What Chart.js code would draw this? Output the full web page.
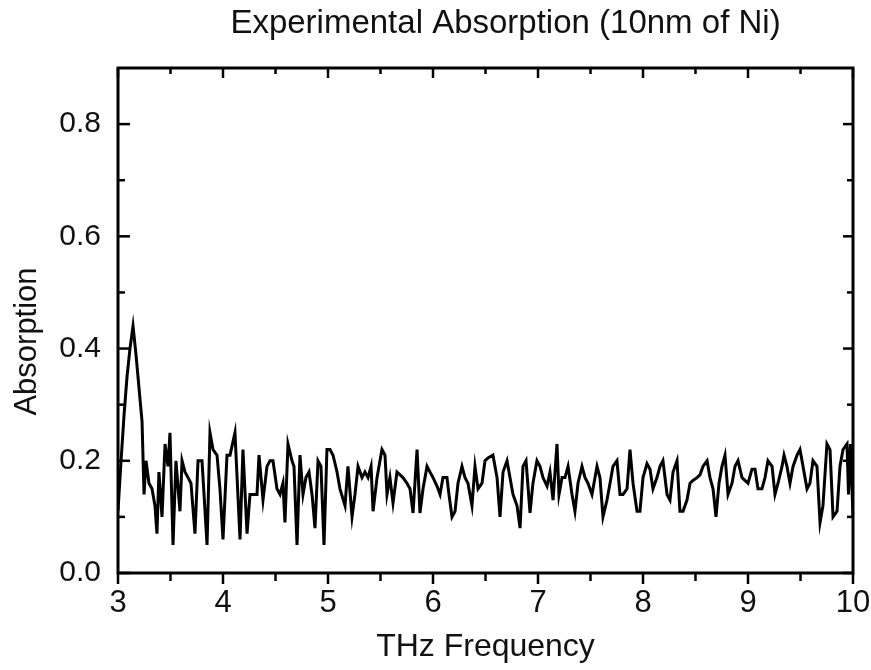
<!DOCTYPE html>
<html><head><meta charset="utf-8">
<script src="https://cdn.jsdelivr.net/npm/chart.js@4"></script>
<style>html,body{margin:0;padding:0;background:#fff}#wrap{width:871px;height:670px}</style>
</head><body><div id="wrap"><canvas id="c" width="871" height="670"></canvas></div>
<script>
const chartTitle = 'Experimental Absorption (10nm of Ni)';
const xAxisTitle = 'THz Frequency';
const yAxisTitle = 'Absorption';

const frequencyTHz = [
3.000,3.029,3.057,3.086,3.114,3.143,3.171,3.200,3.229,3.248,
3.267,3.295,3.324,3.352,3.371,3.390,3.419,3.448,3.476,3.495,
3.524,3.552,3.590,3.610,3.638,3.667,3.695,3.733,3.762,3.800,
3.848,3.876,3.905,3.943,3.971,4.000,4.038,4.067,4.114,4.162,
4.190,4.229,4.257,4.286,4.324,4.343,4.381,4.419,4.448,4.476,
4.514,4.543,4.571,4.590,4.619,4.657,4.676,4.705,4.733,4.762,
4.790,4.819,4.848,4.876,4.905,4.933,4.962,4.990,5.019,5.048,
5.086,5.114,5.162,5.190,5.229,5.257,5.286,5.324,5.352,5.381,
5.410,5.429,5.467,5.495,5.514,5.543,5.562,5.590,5.619,5.657,
5.686,5.714,5.752,5.781,5.810,5.848,5.876,5.905,5.943,5.971,
6.000,6.038,6.067,6.095,6.133,6.152,6.181,6.210,6.238,6.276,
6.305,6.333,6.371,6.400,6.429,6.467,6.495,6.524,6.571,6.610,
6.638,6.667,6.705,6.733,6.762,6.800,6.829,6.857,6.886,6.924,
6.952,6.990,7.019,7.048,7.086,7.114,7.143,7.181,7.200,7.229,
7.257,7.286,7.324,7.352,7.381,7.419,7.448,7.476,7.514,7.562,
7.590,7.619,7.657,7.686,7.714,7.752,7.781,7.810,7.848,7.876,
7.905,7.943,7.971,8.000,8.038,8.067,8.095,8.133,8.162,8.190,
8.229,8.257,8.286,8.324,8.352,8.381,8.419,8.448,8.476,8.514,
8.543,8.571,8.610,8.638,8.667,8.695,8.724,8.752,8.781,8.810,
8.848,8.876,8.905,8.943,8.971,9.000,9.038,9.067,9.095,9.133,
9.162,9.190,9.229,9.257,9.286,9.324,9.343,9.371,9.400,9.429,
9.467,9.495,9.524,9.562,9.590,9.619,9.657,9.686,9.714,9.752,
9.781,9.810,9.848,9.876,9.905,9.943,9.957,9.976,10.000
];

const absorption = [
0.11,0.20,0.28,0.35,0.40,0.44,0.39,0.33,0.27,0.14,
0.20,0.16,0.15,0.12,0.07,0.18,0.10,0.23,0.19,0.25,
0.05,0.20,0.11,0.20,0.18,0.17,0.16,0.07,0.20,0.20,
0.05,0.25,0.22,0.21,0.15,0.06,0.21,0.21,0.25,0.06,
0.22,0.07,0.14,0.14,0.14,0.21,0.13,0.19,0.20,0.20,
0.15,0.14,0.16,0.09,0.23,0.20,0.19,0.05,0.21,0.14,
0.17,0.18,0.14,0.08,0.20,0.19,0.05,0.22,0.22,0.21,
0.18,0.15,0.12,0.19,0.10,0.14,0.19,0.17,0.18,0.17,
0.19,0.11,0.17,0.20,0.22,0.21,0.14,0.17,0.125,0.18,
0.175,0.17,0.16,0.15,0.107,0.22,0.107,0.15,0.19,0.18,
0.17,0.155,0.14,0.17,0.17,0.14,0.10,0.11,0.16,0.19,
0.17,0.16,0.12,0.19,0.15,0.16,0.20,0.205,0.21,0.17,
0.10,0.18,0.20,0.17,0.14,0.12,0.08,0.19,0.20,0.107,
0.16,0.20,0.19,0.17,0.155,0.18,0.13,0.23,0.14,0.17,
0.17,0.19,0.14,0.11,0.16,0.19,0.17,0.16,0.14,0.19,
0.17,0.10,0.13,0.16,0.19,0.20,0.14,0.14,0.15,0.22,
0.16,0.11,0.11,0.17,0.195,0.185,0.15,0.17,0.19,0.20,
0.14,0.13,0.18,0.20,0.11,0.11,0.13,0.16,0.165,0.17,
0.175,0.19,0.20,0.17,0.15,0.10,0.16,0.19,0.21,0.14,
0.16,0.19,0.20,0.17,0.165,0.16,0.185,0.185,0.15,0.15,
0.17,0.20,0.19,0.14,0.16,0.19,0.21,0.19,0.16,0.19,
0.21,0.22,0.19,0.15,0.16,0.20,0.19,0.09,0.12,0.23,
0.22,0.10,0.11,0.19,0.22,0.23,0.14,0.23,0.10
];

const xTickValues = [3, 4, 5, 6, 7, 8, 9, 10];
const yTickValues = [0, 0.2, 0.4, 0.6, 0.8];
const xRange = [3, 10];
const yRange = [0, 0.9];

const FONT = "'Liberation Sans', Arial, sans-serif";
const INK = '#111';

function midpoints(vals) {
  const out = [];
  for (let i = 0; i < vals.length - 1; i++) out.push((vals[i] + vals[i + 1]) / 2);
  return out;
}

const framePlugin = {
  id: 'frame',
  afterDraw(chart) {
    const { ctx, chartArea: a, scales: { x, y } } = chart;
    ctx.save();
    ctx.strokeStyle = '#000';
    ctx.lineCap = 'butt';
    const xs = x.ticks.map(t => t.value);
    const ys = y.ticks.map(t => t.value);
    const xm = midpoints(xs);
    const ym = midpoints(ys);
    ctx.lineWidth = 2.5;
    const line = (x1, y1, x2, y2) => { ctx.beginPath(); ctx.moveTo(x1, y1); ctx.lineTo(x2, y2); ctx.stroke(); };
    xs.forEach(v => { const p = x.getPixelForValue(v); line(p, a.bottom, p, a.bottom + 11); line(p, a.top, p, a.top + 10); });
    xm.forEach(v => { const p = x.getPixelForValue(v); line(p, a.bottom, p, a.bottom + 8); line(p, a.top, p, a.top + 6); });
    ys.forEach(v => { const p = y.getPixelForValue(v); line(a.left, p, a.left + 12, p); line(a.right, p, a.right - 10, p); });
    ym.forEach(v => { const p = y.getPixelForValue(v); line(a.left, p, a.left + 7, p); line(a.right, p, a.right - 6, p); });
    ctx.lineWidth = 3;
    ctx.strokeRect(a.left, a.top, a.right - a.left, a.bottom - a.top);
    ctx.restore();
  }
};

const titlesPlugin = {
  id: 'titles',
  afterDraw(chart) {
    const { ctx, chartArea: a } = chart;
    ctx.save();
    ctx.fillStyle = INK;
    ctx.textAlign = 'center';
    ctx.textBaseline = 'middle';
    ctx.font = "33px " + FONT;
    ctx.fillText(chartTitle, (a.left + a.right) / 2 + 20, 24);
    ctx.font = "31px " + FONT;
    ctx.translate(27, (a.top + a.bottom) / 2 + 21);
    ctx.rotate(-Math.PI / 2);
    ctx.fillText(yAxisTitle, 0, 0);
    ctx.restore();
  }
};

new Chart(document.getElementById('c'), {
  type: 'line',
  data: {
    datasets: [{
      label: yAxisTitle,
      data: frequencyTHz.map((f, i) => ({ x: f, y: absorption[i] })),
      borderColor: '#000',
      borderWidth: 3,
      pointRadius: 0,
      tension: 0,
      fill: false
    }]
  },
  options: {
    responsive: false,
    animation: false,
    devicePixelRatio: 1,
    layout: { padding: { top: 68, right: 18, bottom: 0, left: 0 } },
    plugins: { legend: { display: false }, title: { display: false }, tooltip: { enabled: false } },
    scales: {
      x: {
        type: 'linear', min: xRange[0], max: xRange[1],
        afterBuildTicks: s => { s.ticks = xTickValues.map(v => ({ value: v })); },
        afterFit: s => { s.height = 97; s.paddingLeft = 0; s.paddingRight = 0; },
        grid: { display: false, drawTicks: false },
        border: { display: false },
        ticks: { color: INK, font: { family: FONT, size: 31 }, padding: 12, maxRotation: 0, callback: v => String(v) },
        title: { display: true, text: xAxisTitle, color: INK, font: { family: FONT, size: 32 }, padding: { top: 0, bottom: 4 } }
      },
      y: {
        type: 'linear', min: yRange[0], max: yRange[1],
        afterBuildTicks: s => { s.ticks = yTickValues.map(v => ({ value: v })); },
        afterFit: s => { s.width = 118; s.paddingTop = 0; s.paddingBottom = 0; },
        grid: { display: false, drawTicks: false },
        border: { display: false },
        ticks: { color: INK, font: { family: FONT, size: 30 }, padding: 17, callback: v => Number(v).toFixed(1) },
        title: { display: false }
      }
    }
  },
  plugins: [framePlugin, titlesPlugin]
});
</script>
</body></html>
